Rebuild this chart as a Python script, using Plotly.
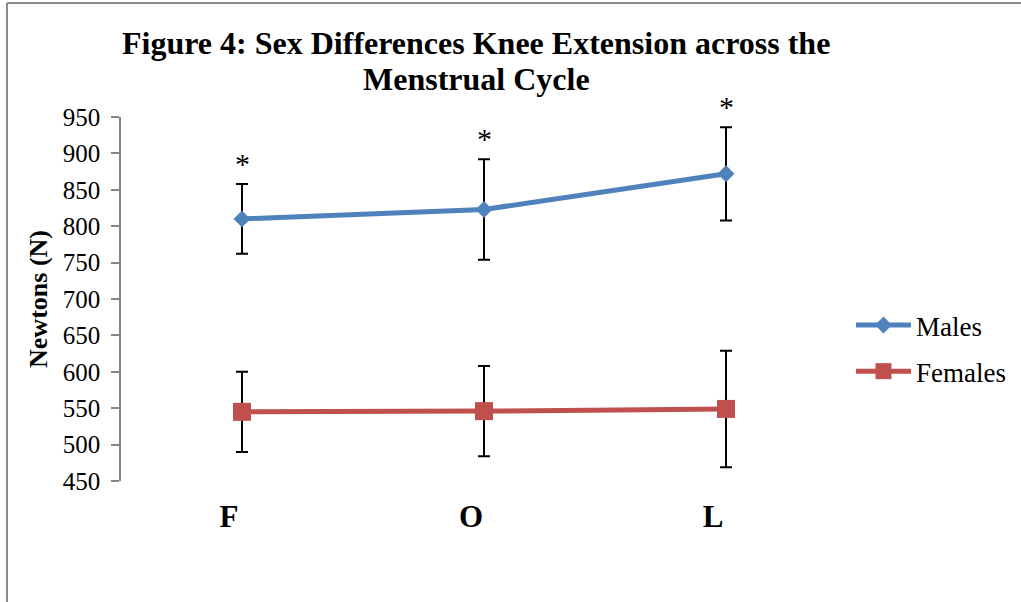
import plotly.graph_objects as go

phases = ["F", "O", "L"]
males_mean = [810, 823, 872]
males_err = [48, 69, 64]
females_mean = [545, 546, 549]
females_err = [55, 62, 80]
male_significant = ["*", "*", "*"]
y_ticks = [450, 500, 550, 600, 650, 700, 750, 800, 850, 900, 950]
title_lines = ["Figure 4: Sex Differences Knee Extension across the", "Menstrual Cycle"]

SERIF = "Liberation Serif"
BLUE = "#4F81BD"
RED = "#C0504D"

# plot-area geometry in pixels (for placing paper-referenced decorations)
PL, PR, PT, PB = 121, 847, 117, 481


def px_x(x):
    return (x - PL) / (PR - PL)


def px_y(y):
    return (PB - y) / (PB - PT)


fig = go.Figure()
fig.add_trace(go.Scatter(
    x=phases, y=males_mean, name="Males", mode="lines+markers",
    line=dict(color=BLUE, width=5),
    marker=dict(symbol="diamond", size=13, color=BLUE),
    error_y=dict(type="data", array=males_err, visible=True, color="black", thickness=2, width=6),
    legendgroup="m",
))
fig.add_trace(go.Scatter(
    x=phases, y=females_mean, name="Females", mode="lines+markers",
    line=dict(color=RED, width=5),
    marker=dict(symbol="square", size=18, color=RED),
    error_y=dict(type="data", array=females_err, visible=True, color="black", thickness=2, width=6),
    legendgroup="f",
))

for p, m, e, s in zip(phases, males_mean, males_err, male_significant):
    fig.add_annotation(x=p, y=m + e, text=s, showarrow=False, xref="x", yref="y",
                       yanchor="bottom", yshift=2, font=dict(family=SERIF, size=30, color="black"))

# two-line chart title (tight Word-like line spacing)
for line_text, yc in zip(title_lines, [43, 79]):
    fig.add_annotation(x=px_x(476), y=px_y(yc), xref="paper", yref="paper",
                       text="<b>" + line_text + "</b>", showarrow=False,
                       xanchor="center", yanchor="middle",
                       font=dict(family=SERIF, size=32, color="black"))

# outer frame (top and left edges visible)
fig.add_shape(type="line", xref="paper", yref="paper", x0=px_x(7), x1=2,
              y0=px_y(3), y1=px_y(3), line=dict(color="#8C8C8C", width=2))
fig.add_shape(type="line", xref="paper", yref="paper", x0=px_x(7), x1=px_x(7),
              y0=-1, y1=px_y(3), line=dict(color="#8C8C8C", width=2))

fig.update_layout(
    width=1021, height=602,
    margin=dict(l=PL, r=1021 - PR, t=PT, b=602 - PB, autoexpand=False),
    paper_bgcolor="white", plot_bgcolor="white",
    font=dict(family=SERIF, color="black"),
    showlegend=True,
    legend=dict(
        x=px_x(851), xanchor="left", y=px_y(301), yanchor="top",
        font=dict(family=SERIF, size=27, color="black"),
        tracegroupgap=8, traceorder="grouped", bgcolor="rgba(0,0,0,0)",
        itemwidth=55,
    ),
    xaxis=dict(
        type="category", range=[-0.5, 2.5], showline=False, showgrid=False, zeroline=False,
        ticks="", tickfont=dict(family=SERIF, size=31, color="black", weight="bold"),
        ticklabelshift=-13, ticklabelstandoff=14,
    ),
    yaxis=dict(
        range=[450, 950], tickvals=y_ticks, showgrid=False, zeroline=False,
        showline=True, linecolor="#868686", linewidth=1.5,
        ticks="outside", ticklen=8, tickcolor="#868686", tickwidth=1.5,
        tickfont=dict(family=SERIF, size=25, color="black"), ticklabelstandoff=6,
        title=dict(text="Newtons (N)", standoff=8,
                   font=dict(family=SERIF, size=26, color="black", weight="bold")),
    ),
)

fig.write_html("out.html", config={"displayModeBar": False},
               post_script="document.body.style.margin='0';")
